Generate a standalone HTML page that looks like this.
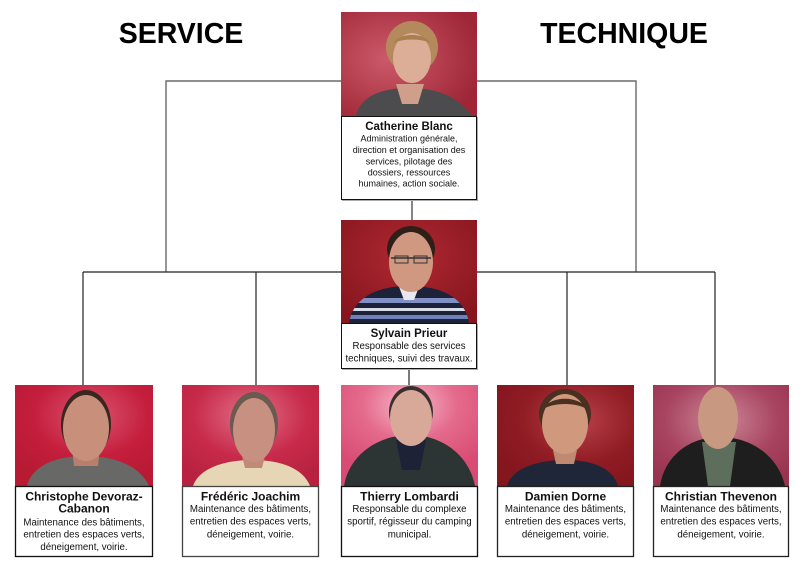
<!DOCTYPE html>
<html>
<head>
<meta charset="utf-8">
<style>
html,body{margin:0;padding:0;background:#fff;}
svg{display:block;}
text{font-family:"Liberation Sans",Arial,sans-serif;fill:#000;}
.t{font-weight:bold;font-size:28.5px;text-anchor:middle;}
.n{font-weight:bold;font-size:12px;text-anchor:middle;fill:#111;}
.nt{font-weight:bold;font-size:11.5px;text-anchor:middle;fill:#111;}
.d{font-size:9.7px;text-anchor:middle;fill:#111;}
.dc{font-size:9px;text-anchor:middle;fill:#111;}
</style>
</head>
<body>
<svg width="800" height="565" viewBox="0 0 800 565" xmlns="http://www.w3.org/2000/svg">
<defs>
<radialGradient id="gCat" cx="0.35" cy="0.45" r="0.7"><stop offset="0" stop-color="#cc5a6a"/><stop offset="1" stop-color="#9e2636"/></radialGradient>
<radialGradient id="gSyl" cx="0.5" cy="0.35" r="0.7"><stop offset="0" stop-color="#b02832"/><stop offset="1" stop-color="#86161e"/></radialGradient>
<radialGradient id="gChr" cx="0.55" cy="0.3" r="0.7"><stop offset="0" stop-color="#dc5470"/><stop offset="0.6" stop-color="#c41e3c"/><stop offset="1" stop-color="#b81a34"/></radialGradient>
<radialGradient id="gFre" cx="0.5" cy="0.3" r="0.7"><stop offset="0" stop-color="#e07088"/><stop offset="0.6" stop-color="#c82a4a"/><stop offset="1" stop-color="#b82240"/></radialGradient>
<radialGradient id="gThi" cx="0.5" cy="0.2" r="0.7"><stop offset="0" stop-color="#f6b8c8"/><stop offset="0.5" stop-color="#e46a8c"/><stop offset="1" stop-color="#d84c74"/></radialGradient>
<radialGradient id="gDam" cx="0.6" cy="0.35" r="0.7"><stop offset="0" stop-color="#b8404a"/><stop offset="0.6" stop-color="#901c24"/><stop offset="1" stop-color="#84161e"/></radialGradient>
<radialGradient id="gChn" cx="0.5" cy="0.35" r="0.7"><stop offset="0" stop-color="#cc8898"/><stop offset="0.6" stop-color="#a84460"/><stop offset="1" stop-color="#983450"/></radialGradient>
<clipPath id="cSylShirt"><path d="M349,323 C353,298 376,286 409,286 C442,286 465,298 469,323 Z"/></clipPath>
</defs>

<!-- Titles -->
<text class="t" x="181" y="43">SERVICE</text>
<text class="t" x="624" y="43">TECHNIQUE</text>

<!-- Connectors -->
<polyline points="166,272 166,81 636,81 636,272" fill="none" stroke="#6a6a6a" stroke-width="1.4"/>
<line x1="412" y1="200" x2="412" y2="221" stroke="#333" stroke-width="1.2"/>
<line x1="83" y1="272" x2="715" y2="272" stroke="#222" stroke-width="1.2"/>
<line x1="83" y1="272" x2="83" y2="385" stroke="#222" stroke-width="1.2"/>
<line x1="256" y1="272" x2="256" y2="385" stroke="#222" stroke-width="1.2"/>
<line x1="567" y1="272" x2="567" y2="385" stroke="#222" stroke-width="1.2"/>
<line x1="715" y1="272" x2="715" y2="385" stroke="#222" stroke-width="1.2"/>
<line x1="409" y1="369" x2="409" y2="385" stroke="#222" stroke-width="1.2"/>

<!-- ===== Catherine ===== -->
<rect x="341" y="12" width="136" height="104" fill="url(#gCat)"/>
<path d="M356,116 C360,97 380,88 409,88 C438,88 458,97 472,116 Z" fill="#4c4c4e"/>
<path d="M396,84 L424,84 L418,104 L402,104 Z" fill="#cf9f8c"/>
<ellipse cx="412" cy="47" rx="26" ry="26" fill="#b48a5c"/>
<ellipse cx="412" cy="58" rx="19" ry="25" fill="#dcae98"/>
<path d="M393,44 C398,32 426,32 431,44 C424,38 400,38 393,44 Z" fill="#a88050"/>
<rect x="342" y="117" width="136" height="84" fill="#aaa"/>
<rect x="341.5" y="116.5" width="135" height="83" fill="#fff" stroke="#111" stroke-width="1"/>
<text class="nt" x="409" y="130">Catherine Blanc</text>
<text class="dc" x="409" y="141.7">Administration générale,</text>
<text class="dc" x="409" y="153">direction et organisation des</text>
<text class="dc" x="409" y="164.3">services, pilotage des</text>
<text class="dc" x="409" y="175.5">dossiers, ressources</text>
<text class="dc" x="409" y="186.7">humaines, action sociale.</text>

<!-- ===== Sylvain ===== -->
<rect x="341" y="220" width="136" height="103" fill="url(#gSyl)"/>
<path d="M349,323 C353,298 376,286 409,286 C442,286 465,298 469,323 Z" fill="#1c2238"/>
<g clip-path="url(#cSylShirt)">
<rect x="340" y="298" width="140" height="5" fill="#8090c4"/>
<rect x="340" y="308" width="140" height="3" fill="#d8dce8"/>
<rect x="340" y="315" width="140" height="4" fill="#7080b8"/>
</g>
<path d="M398,284 L420,284 L414,300 L404,300 Z" fill="#e8e8ee"/>
<ellipse cx="411" cy="249" rx="24" ry="23" fill="#2e2018"/>
<ellipse cx="411" cy="262" rx="22" ry="30" fill="#d09880"/>
<path d="M391,258 L431,258" stroke="#333" stroke-width="1.5"/>
<rect x="395" y="256" width="13" height="7" fill="none" stroke="#333" stroke-width="1"/>
<rect x="414" y="256" width="13" height="7" fill="none" stroke="#333" stroke-width="1"/>
<rect x="342" y="324" width="136" height="46" fill="#aaa"/>
<rect x="341.5" y="323.5" width="135" height="45" fill="#fff" stroke="#111" stroke-width="1"/>
<text class="nt" x="409" y="337">Sylvain Prieur</text>
<text class="d" x="409" y="349">Responsable des services</text>
<text class="d" x="409" y="361.3">techniques, suivi des travaux.</text>

<!-- ===== Christophe ===== -->
<rect x="15" y="385" width="138" height="101" fill="url(#gChr)"/>
<path d="M27,486 C32,466 55,456 85,456 C115,456 140,466 149,486 Z" fill="#686866"/>
<path d="M72,448 L100,448 L98,466 L74,466 Z" fill="#b8806c"/>
<ellipse cx="86" cy="424" rx="25" ry="34" fill="#3a2820"/>
<ellipse cx="86" cy="428" rx="23" ry="33" fill="#c8907a"/>
<rect x="15.5" y="486.5" width="137" height="70" fill="#fff" stroke="#111" stroke-width="1.3"/>
<text class="n" x="84" y="500.3">Christophe Devoraz-</text>
<text class="n" x="84" y="512.7">Cabanon</text>
<text class="d" x="84" y="525.3">Maintenance des bâtiments,</text>
<text class="d" x="84" y="537.7">entretien des espaces verts,</text>
<text class="d" x="84" y="550">déneigement, voirie.</text>

<!-- ===== Frédéric ===== -->
<rect x="182" y="385" width="137" height="101" fill="url(#gFre)"/>
<path d="M193,486 C199,468 225,460 252,460 C280,460 303,468 310,486 Z" fill="#e6d6b6"/>
<path d="M241,452 L266,452 L262,468 L245,468 Z" fill="#c08a78"/>
<ellipse cx="254" cy="424" rx="24" ry="32" fill="#6a5a50"/>
<ellipse cx="254" cy="430" rx="21" ry="32" fill="#c89080"/>
<rect x="182.5" y="486.5" width="136" height="70" fill="#fff" stroke="#444" stroke-width="1.3"/>
<text class="n" x="250.5" y="500.3">Frédéric Joachim</text>
<text class="d" x="250.5" y="512">Maintenance des bâtiments,</text>
<text class="d" x="250.5" y="524.7">entretien des espaces verts,</text>
<text class="d" x="250.5" y="537.3">déneigement, voirie.</text>

<!-- ===== Thierry ===== -->
<rect x="341" y="385" width="137" height="101" fill="url(#gThi)"/>
<path d="M344,486 C349,455 378,435 410,435 C442,435 469,455 475,486 Z" fill="#2c3434"/>
<path d="M396,440 L426,440 L420,470 L402,470 Z" fill="#1e2236"/>
<ellipse cx="411" cy="412" rx="22" ry="26" fill="#3a3030"/>
<ellipse cx="411" cy="418" rx="21" ry="28" fill="#d8a898"/>
<rect x="341.5" y="486.5" width="136" height="70" fill="#fff" stroke="#111" stroke-width="1.3"/>
<text class="n" x="409.5" y="500.3">Thierry Lombardi</text>
<text class="d" x="409.5" y="512">Responsable du complexe</text>
<text class="d" x="409.5" y="524.7">sportif, régisseur du camping</text>
<text class="d" x="409.5" y="537.3">municipal.</text>

<!-- ===== Damien ===== -->
<rect x="497" y="385" width="137" height="101" fill="url(#gDam)"/>
<path d="M507,486 C512,468 538,460 565,460 C592,460 613,468 618,486 Z" fill="#1e2638"/>
<path d="M553,450 L577,450 L574,464 L556,464 Z" fill="#c08a72"/>
<ellipse cx="565" cy="414" rx="26" ry="25" fill="#4a3020"/>
<ellipse cx="565" cy="424" rx="23" ry="30" fill="#d0987c"/>
<path d="M542,410 C550,395 580,395 588,410 C578,402 552,402 542,410 Z" fill="#4a3020"/>
<rect x="497.5" y="486.5" width="136" height="70" fill="#fff" stroke="#222" stroke-width="1.3"/>
<text class="n" x="565.5" y="500.3">Damien Dorne</text>
<text class="d" x="565.5" y="512">Maintenance des bâtiments,</text>
<text class="d" x="565.5" y="524.7">entretien des espaces verts,</text>
<text class="d" x="565.5" y="537.3">déneigement, voirie.</text>

<!-- ===== Christian ===== -->
<rect x="653" y="385" width="136" height="101" fill="url(#gChn)"/>
<path d="M660,486 C665,455 690,437 720,437 C750,437 778,455 785,486 Z" fill="#1e1e1e"/>
<path d="M702,442 L736,442 L730,486 L708,486 Z" fill="#5e6e5c"/>
<ellipse cx="718" cy="418" rx="20" ry="31" fill="#c89880"/>
<rect x="653.5" y="486.5" width="135" height="70" fill="#fff" stroke="#222" stroke-width="1.3"/>
<text class="n" x="721" y="500.3">Christian Thevenon</text>
<text class="d" x="721" y="512">Maintenance des bâtiments,</text>
<text class="d" x="721" y="524.7">entretien des espaces verts,</text>
<text class="d" x="721" y="537.3">déneigement, voirie.</text>
</svg>
</body>
</html>
